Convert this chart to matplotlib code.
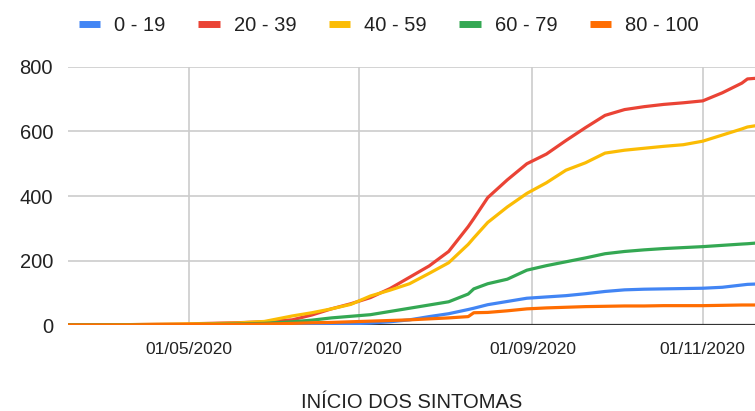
import pandas as pd
import matplotlib
matplotlib.use("Agg")
import matplotlib.pyplot as plt
import matplotlib.dates as mdates
from matplotlib.lines import Line2D

plt.rcParams["font.family"] = ["Liberation Sans", "DejaVu Sans"]

# casos acumulados por faixa etária
dates = ["2020-03-19", "2020-03-29", "2020-04-08", "2020-04-18", "2020-04-28",
         "2020-05-08", "2020-05-18", "2020-05-28", "2020-06-07", "2020-06-14",
         "2020-06-21", "2020-06-28", "2020-07-05", "2020-07-12", "2020-07-19",
         "2020-07-26", "2020-08-02", "2020-08-09", "2020-08-11", "2020-08-16",
         "2020-08-23", "2020-08-30", "2020-09-06", "2020-09-13", "2020-09-20",
         "2020-09-27", "2020-10-04", "2020-10-11", "2020-10-18", "2020-10-25",
         "2020-11-01", "2020-11-08", "2020-11-15", "2020-11-17", "2020-11-20"]
age_0_19 = [0, 0, 0, 0, 0, 0, 0, 1, 2, 2, 3, 4, 6, 10, 16, 26, 35, 48, 52, 63,
            73, 83, 87, 91, 97, 104, 109, 111, 112, 113, 114, 117, 124, 126, 127]
age_20_39 = [0, 0, 1, 2, 3, 5, 7, 10, 16, 31, 50, 66, 85, 113, 148, 183, 228, 305,
             330, 395, 450, 500, 530, 572, 612, 650, 668, 677, 684, 689, 695, 720,
             750, 763, 765]
age_40_59 = [0, 0, 1, 2, 3, 4, 6, 11, 28, 38, 50, 64, 90, 108, 128, 160, 193, 250,
             270, 318, 366, 408, 441, 480, 503, 533, 542, 548, 554, 559, 570, 589,
             608, 614, 618]
age_60_79 = [0, 0, 0, 1, 1, 2, 3, 5, 10, 15, 22, 27, 32, 42, 52, 62, 72, 96, 112,
             128, 142, 170, 184, 196, 208, 221, 228, 233, 237, 240, 243, 247, 251,
             252, 254]
age_80_100 = [0, 0, 0, 1, 1, 2, 2, 3, 5, 7, 8, 10, 12, 14, 16, 19, 22, 26, 38, 39,
              44, 50, 53, 55, 57, 58, 59, 59, 60, 60, 60, 61, 62, 62, 62]

labels = ["0 - 19", "20 - 39", "40 - 59", "60 - 79", "80 - 100"]
colors = ["#4285F4", "#EA4335", "#FBBC04", "#34A853", "#FF6D01"]
xticks = ["2020-05-01", "2020-07-01", "2020-09-01", "2020-11-01"]

x = pd.to_datetime(dates)
series = [age_0_19, age_20_39, age_40_59, age_60_79, age_80_100]

fig = plt.figure(figsize=(7.55, 4.11), dpi=100)
ax = fig.add_axes([68.3 / 755, 1 - 325 / 411, 1 - 68.3 / 755, (325 - 67) / 411])

for vals, c in zip(series, colors):
    ax.plot(x, vals, color=c, linewidth=2.3, zorder=3, solid_joinstyle="round")

ax.axhline(0, color="#333333", linewidth=1.6, zorder=2)

left = mdates.date2num(pd.Timestamp("2020-03-18")) + 0.8
right = mdates.date2num(pd.Timestamp("2020-11-19")) + 0.7
ax.set_xlim(left, right)
ax.set_ylim(0, 800)
ax.set_yticks([0, 200, 400, 600, 800])
ax.set_xticks(pd.to_datetime(xticks))
ax.xaxis.set_major_formatter(mdates.DateFormatter("%d/%m/%Y"))

ax.grid(True, color="#cccccc", linewidth=1.2, zorder=0)
ax.set_axisbelow(True)
for s in ax.spines.values():
    s.set_visible(False)
ax.tick_params(axis="both", length=0, colors="#222222")
ax.tick_params(axis="y", labelsize=14.5, pad=11)
ax.tick_params(axis="x", labelsize=12.5, pad=12)

fig.text((68.3 + 755) / 2 / 755, 1 - 402 / 411, "INÍCIO DOS SINTOMAS",
         ha="center", va="center", fontsize=14.5, color="#222222")

handles = [Line2D([], [], color=c, linewidth=5, solid_capstyle="butt") for c in colors]
fig.legend(handles, labels, loc="center", bbox_to_anchor=(389 / 755, 1 - 25.7 / 411),
           ncol=5, frameon=False, fontsize=14.5, handlelength=1.05,
           handletextpad=0.7, columnspacing=1.62, labelcolor="#222222")

fig.savefig("out.png", dpi=100, facecolor="white")
